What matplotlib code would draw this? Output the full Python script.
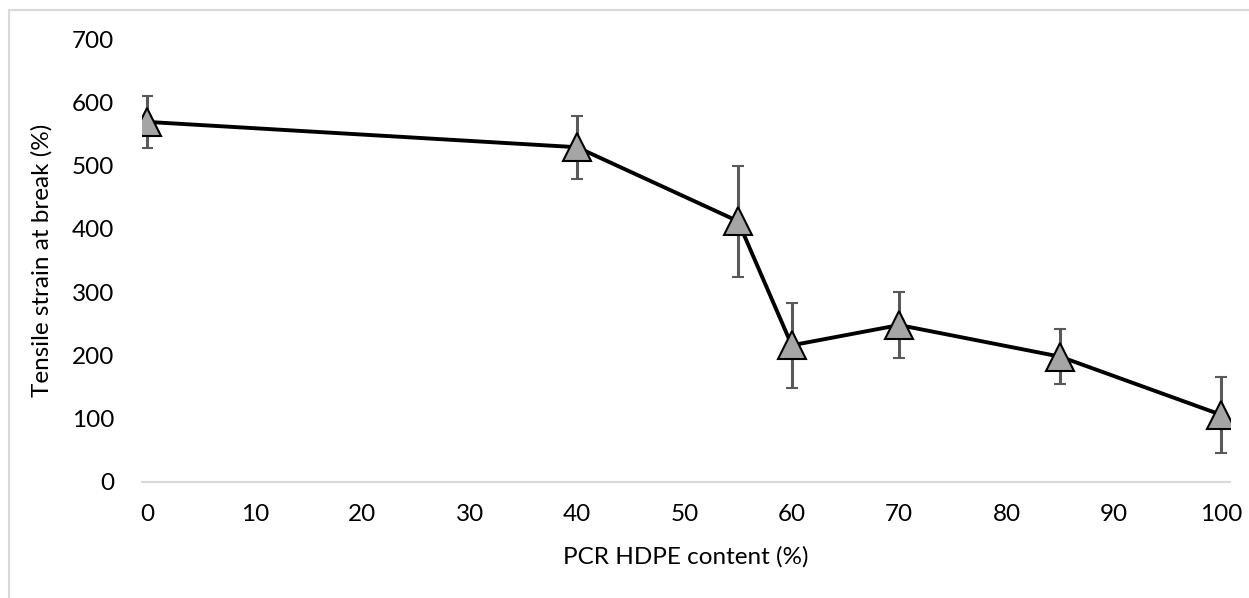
import matplotlib.pyplot as plt
from matplotlib.lines import Line2D

# PCR HDPE content (%) and tensile strain at break (%)
content = [0, 40, 55, 60, 70, 85, 100]
strain = [569, 529, 412, 216, 248, 198, 106]
strain_sd = [41, 50, 88, 67, 52, 43, 60]

x_ticks = list(range(0, 101, 10))
y_ticks = list(range(0, 701, 100))

plt.rcParams["font.family"] = ["Lato", "DejaVu Sans"]

W, H = 1249, 598
fig = plt.figure(figsize=(W / 100, H / 100), dpi=100)
ax = fig.add_axes([142 / W, 1 - 482 / H, (1230 - 142) / W, (482 - 39) / H])

ax.errorbar(
    content,
    strain,
    yerr=strain_sd,
    color="black",
    lw=2.8,
    marker="^",
    ms=20.5,
    mfc="#A5A5A5",
    mec="black",
    mew=1.5,
    ecolor="#595959",
    elinewidth=2.2,
    capsize=4.3,
    capthick=2.2,
)

ax.set_xlim(-0.5, 100.8)
ax.set_ylim(0, 700)
ax.set_xticks(x_ticks)
ax.set_yticks(y_ticks)
ax.tick_params(length=0, labelsize=17.5, colors="black")
ax.tick_params(axis="x", pad=16)
ax.tick_params(axis="y", pad=20)

for side in ["top", "right", "left"]:
    ax.spines[side].set_visible(False)
ax.spines["bottom"].set_color("#D9D9D9")
ax.spines["bottom"].set_linewidth(1.5)

ax.set_xlabel("PCR HDPE content (%)", fontsize=17.5, labelpad=15)
ax.set_ylabel("Tensile strain at break (%)", fontsize=17.5, labelpad=14)

# light chart-area border (cropped on the right and bottom)
fig.add_artist(Line2D([9 / W, 1], [1 - 10 / H, 1 - 10 / H], color="#D9D9D9", lw=1.5))
fig.add_artist(Line2D([9 / W, 9 / W], [0, 1 - 10 / H], color="#D9D9D9", lw=1.5))

fig.savefig("out.png", dpi=100)
